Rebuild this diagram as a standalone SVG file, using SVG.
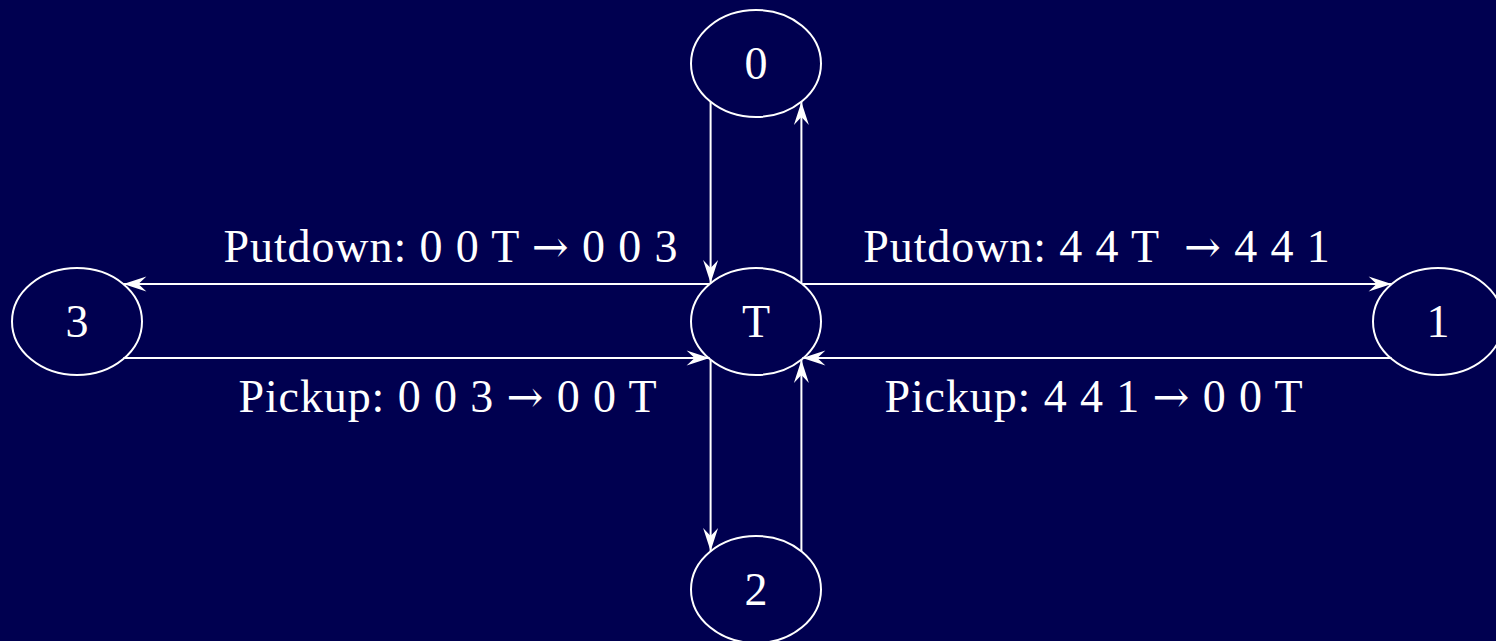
<svg xmlns="http://www.w3.org/2000/svg" width="1496" height="641" viewBox="0 0 1496 641">
<defs>
<style>
.node{fill:none;stroke:#ffffff;stroke-width:2}
.edge{fill:none;stroke:#ffffff;stroke-width:2}
text{font-family:"Liberation Serif","DejaVu Serif",serif;fill:#ffffff;font-size:46px}
.lbl{text-anchor:middle}
.el{letter-spacing:0.9px}
.ar{font-family:"DejaVu Serif",serif;font-size:44px}
</style>
<marker id="arr" viewBox="-24 -8 26 16" refX="0" refY="0" markerWidth="26" markerHeight="16" markerUnits="userSpaceOnUse" orient="auto">
<path d="M0,0 L-23,-7.5 L-15,0 L-23,7.5 Z" fill="#ffffff"/>
</marker>
</defs>
<rect x="0" y="0" width="1496" height="641" fill="#000050"/>
<g id="connectors">
<line class="edge" x1="710.6" y1="102" x2="710.6" y2="283" marker-end="url(#arr)"/>
<line class="edge" x1="801.4" y1="283" x2="801.4" y2="102" marker-end="url(#arr)"/>
<line class="edge" x1="709.6" y1="284" x2="123.4" y2="284" marker-end="url(#arr)"/>
<line class="edge" x1="802.4" y1="284" x2="1391.6" y2="284" marker-end="url(#arr)"/>
<line class="edge" x1="123.4" y1="358" x2="709.6" y2="358" marker-end="url(#arr)"/>
<line class="edge" x1="1391.6" y1="358" x2="802.4" y2="358" marker-end="url(#arr)"/>
<line class="edge" x1="710.6" y1="360" x2="710.6" y2="551" marker-end="url(#arr)"/>
<line class="edge" x1="801.4" y1="551" x2="801.4" y2="360" marker-end="url(#arr)"/>
<text class="lbl el" x="451" y="262">Putdown: 0 0 T <tspan class="ar">→</tspan> 0 0 3</text>
<text class="lbl el" x="1097" y="262" xml:space="preserve">Putdown: 4 4 T  <tspan class="ar">→</tspan> 4 4 1</text>
<text class="lbl el" x="448" y="412">Pickup: 0 0 3 <tspan class="ar">→</tspan> 0 0 T</text>
<text class="lbl el" x="1094" y="412">Pickup: 4 4 1 <tspan class="ar">→</tspan> 0 0 T</text>
</g>
<g id="node-0">
<ellipse class="node" cx="756" cy="63.5" rx="65" ry="53.5"/>
<text class="lbl" x="756" y="79">0</text>
</g>
<g id="node-T">
<ellipse class="node" cx="756" cy="321.5" rx="65" ry="53.5"/>
<text class="lbl" x="756" y="337">T</text>
</g>
<g id="node-3">
<ellipse class="node" cx="77" cy="321.5" rx="65" ry="53.5"/>
<text class="lbl" x="77" y="337">3</text>
</g>
<g id="node-1">
<ellipse class="node" cx="1438" cy="321.5" rx="65" ry="53.5"/>
<text class="lbl" x="1438" y="337">1</text>
</g>
<g id="node-2">
<ellipse class="node" cx="756" cy="589.5" rx="65" ry="53.5"/>
<text class="lbl" x="756" y="605">2</text>
</g>
</svg>
